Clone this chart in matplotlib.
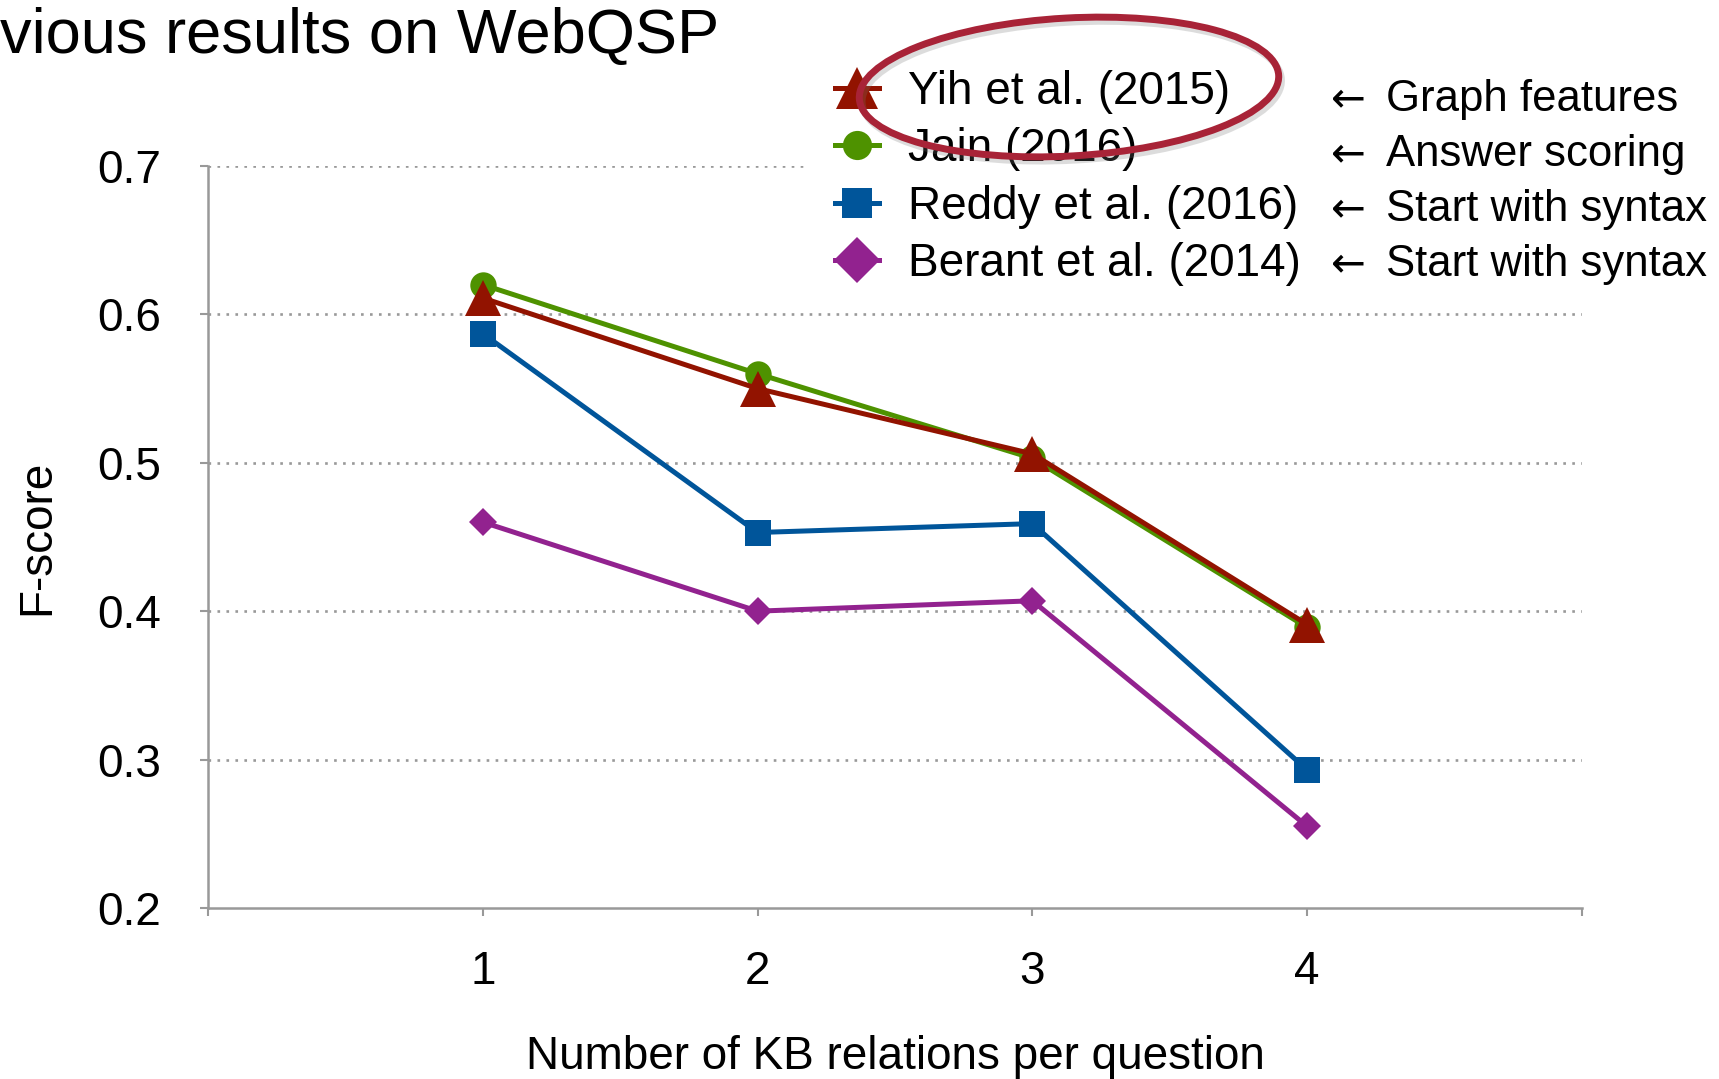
import matplotlib
matplotlib.use("Agg")
import matplotlib.pyplot as plt
from matplotlib.patches import Ellipse, Rectangle
import matplotlib.patheffects as pe

plt.rcParams['font.family'] = ['Liberation Sans', 'DejaVu Sans']

# ---- data ----
relations = [1, 2, 3, 4]
yih = [0.611, 0.550, 0.506, 0.391]
jain = [0.620, 0.560, 0.503, 0.389]
reddy = [0.587, 0.453, 0.459, 0.293]
berant = [0.460, 0.400, 0.407, 0.255]
series_names = ["Yih et al. (2015)", "Jain (2016)", "Reddy et al. (2016)", "Berant et al. (2014)"]
notes = ["Graph features", "Answer scoring", "Start with syntax", "Start with syntax"]
yticks = [0.2, 0.3, 0.4, 0.5, 0.6, 0.7]
xticks = [0, 1, 2, 3, 4, 5]
xticklabels = ["", "1", "2", "3", "4", ""]

colors = ["#921300", "#4E9200", "#00559A", "#92228F"]

fig = plt.figure(figsize=(17.19, 10.79), dpi=100)
ax = fig.add_axes([0.121, 0.1585, 0.7993, 0.6877])

lw = 3.6
h_jain, = ax.plot(relations, jain, color=colors[1], lw=lw, marker='o', ms=19, mew=0, zorder=3)
h_berant, = ax.plot(relations, berant, color=colors[3], lw=lw, marker='D', ms=14.5, mew=0, zorder=3)
h_reddy, = ax.plot(relations, reddy, color=colors[2], lw=lw, marker='s', ms=18.5, mew=0, zorder=3)
h_yih, = ax.plot(relations, yih, color=colors[0], lw=lw, marker='^', ms=26, mew=0, zorder=4)

ax.set_xlim(0, 5)
ax.set_ylim(0.2, 0.7)
ax.set_xticks(xticks)
ax.set_xticklabels(xticklabels)
ax.set_yticks(yticks)
ax.set_yticklabels([f"{v:.1f}" for v in yticks])

for v in yticks[1:]:
    ax.axhline(v, color="#999999", lw=1.9, linestyle=(0, (1, 2.4)), zorder=1)

for s in ['top', 'right']:
    ax.spines[s].set_visible(False)
for s in ['left', 'bottom']:
    ax.spines[s].set_color("#999999")
    ax.spines[s].set_linewidth(1.8)
ax.tick_params(axis='both', colors="#999999", length=6, width=1.5, labelcolor="black", labelsize=33)
ax.tick_params(axis='x', pad=24)
ax.tick_params(axis='y', pad=28)

ax.set_xlabel("Number of KB relations per question", fontsize=33, labelpad=30)
ax.set_ylabel("F-score", fontsize=33, labelpad=27)

# white block behind legend
fig.patches.append(Rectangle((808 / 1719, 1 - 292 / 1079), 911 / 1719, 242 / 1079,
                             transform=fig.transFigure, facecolor="white", edgecolor="none",
                             zorder=1))

leg = fig.legend([h_yih, h_jain, h_reddy, h_berant], series_names,
                 loc='upper left', bbox_to_anchor=(835 / 1719, 1 - 70 / 1079),
                 frameon=False, fontsize=33, handlelength=0.95, handletextpad=0.65,
                 labelspacing=0.29, borderpad=0, borderaxespad=0)
leg.set_zorder(5)
for handle, size in zip(leg.legend_handles, [30, 21, 21, 23]):
    handle.set_markersize(size)

row_baselines = [111, 166, 221, 276]
for note, yb in zip(notes, row_baselines):
    fig.text(1331 / 1719, 1 - yb / 1079, "\u2190", fontsize=30, va='baseline', ha='left',
             family=['DejaVu Sans'], zorder=6)
    fig.text(1386 / 1719, 1 - yb / 1079, note, fontsize=31.5, va='baseline', ha='left', zorder=6)

fig.text(0.0, 1 - 53 / 1079, "vious results on WebQSP", fontsize=45.5, va='baseline', ha='left')

ell = Ellipse((10.69, (1079 - 87) / 100), 4.2, 1.38, angle=3.2,
              transform=fig.dpi_scale_trans,
              facecolor='none', edgecolor="#A82337", lw=5, zorder=7,
              path_effects=[pe.SimpleLineShadow(offset=(2, -3), shadow_color='#777777', alpha=0.25),
                            pe.Normal()])
fig.patches.append(ell)

fig.savefig("out.png", dpi=100)
